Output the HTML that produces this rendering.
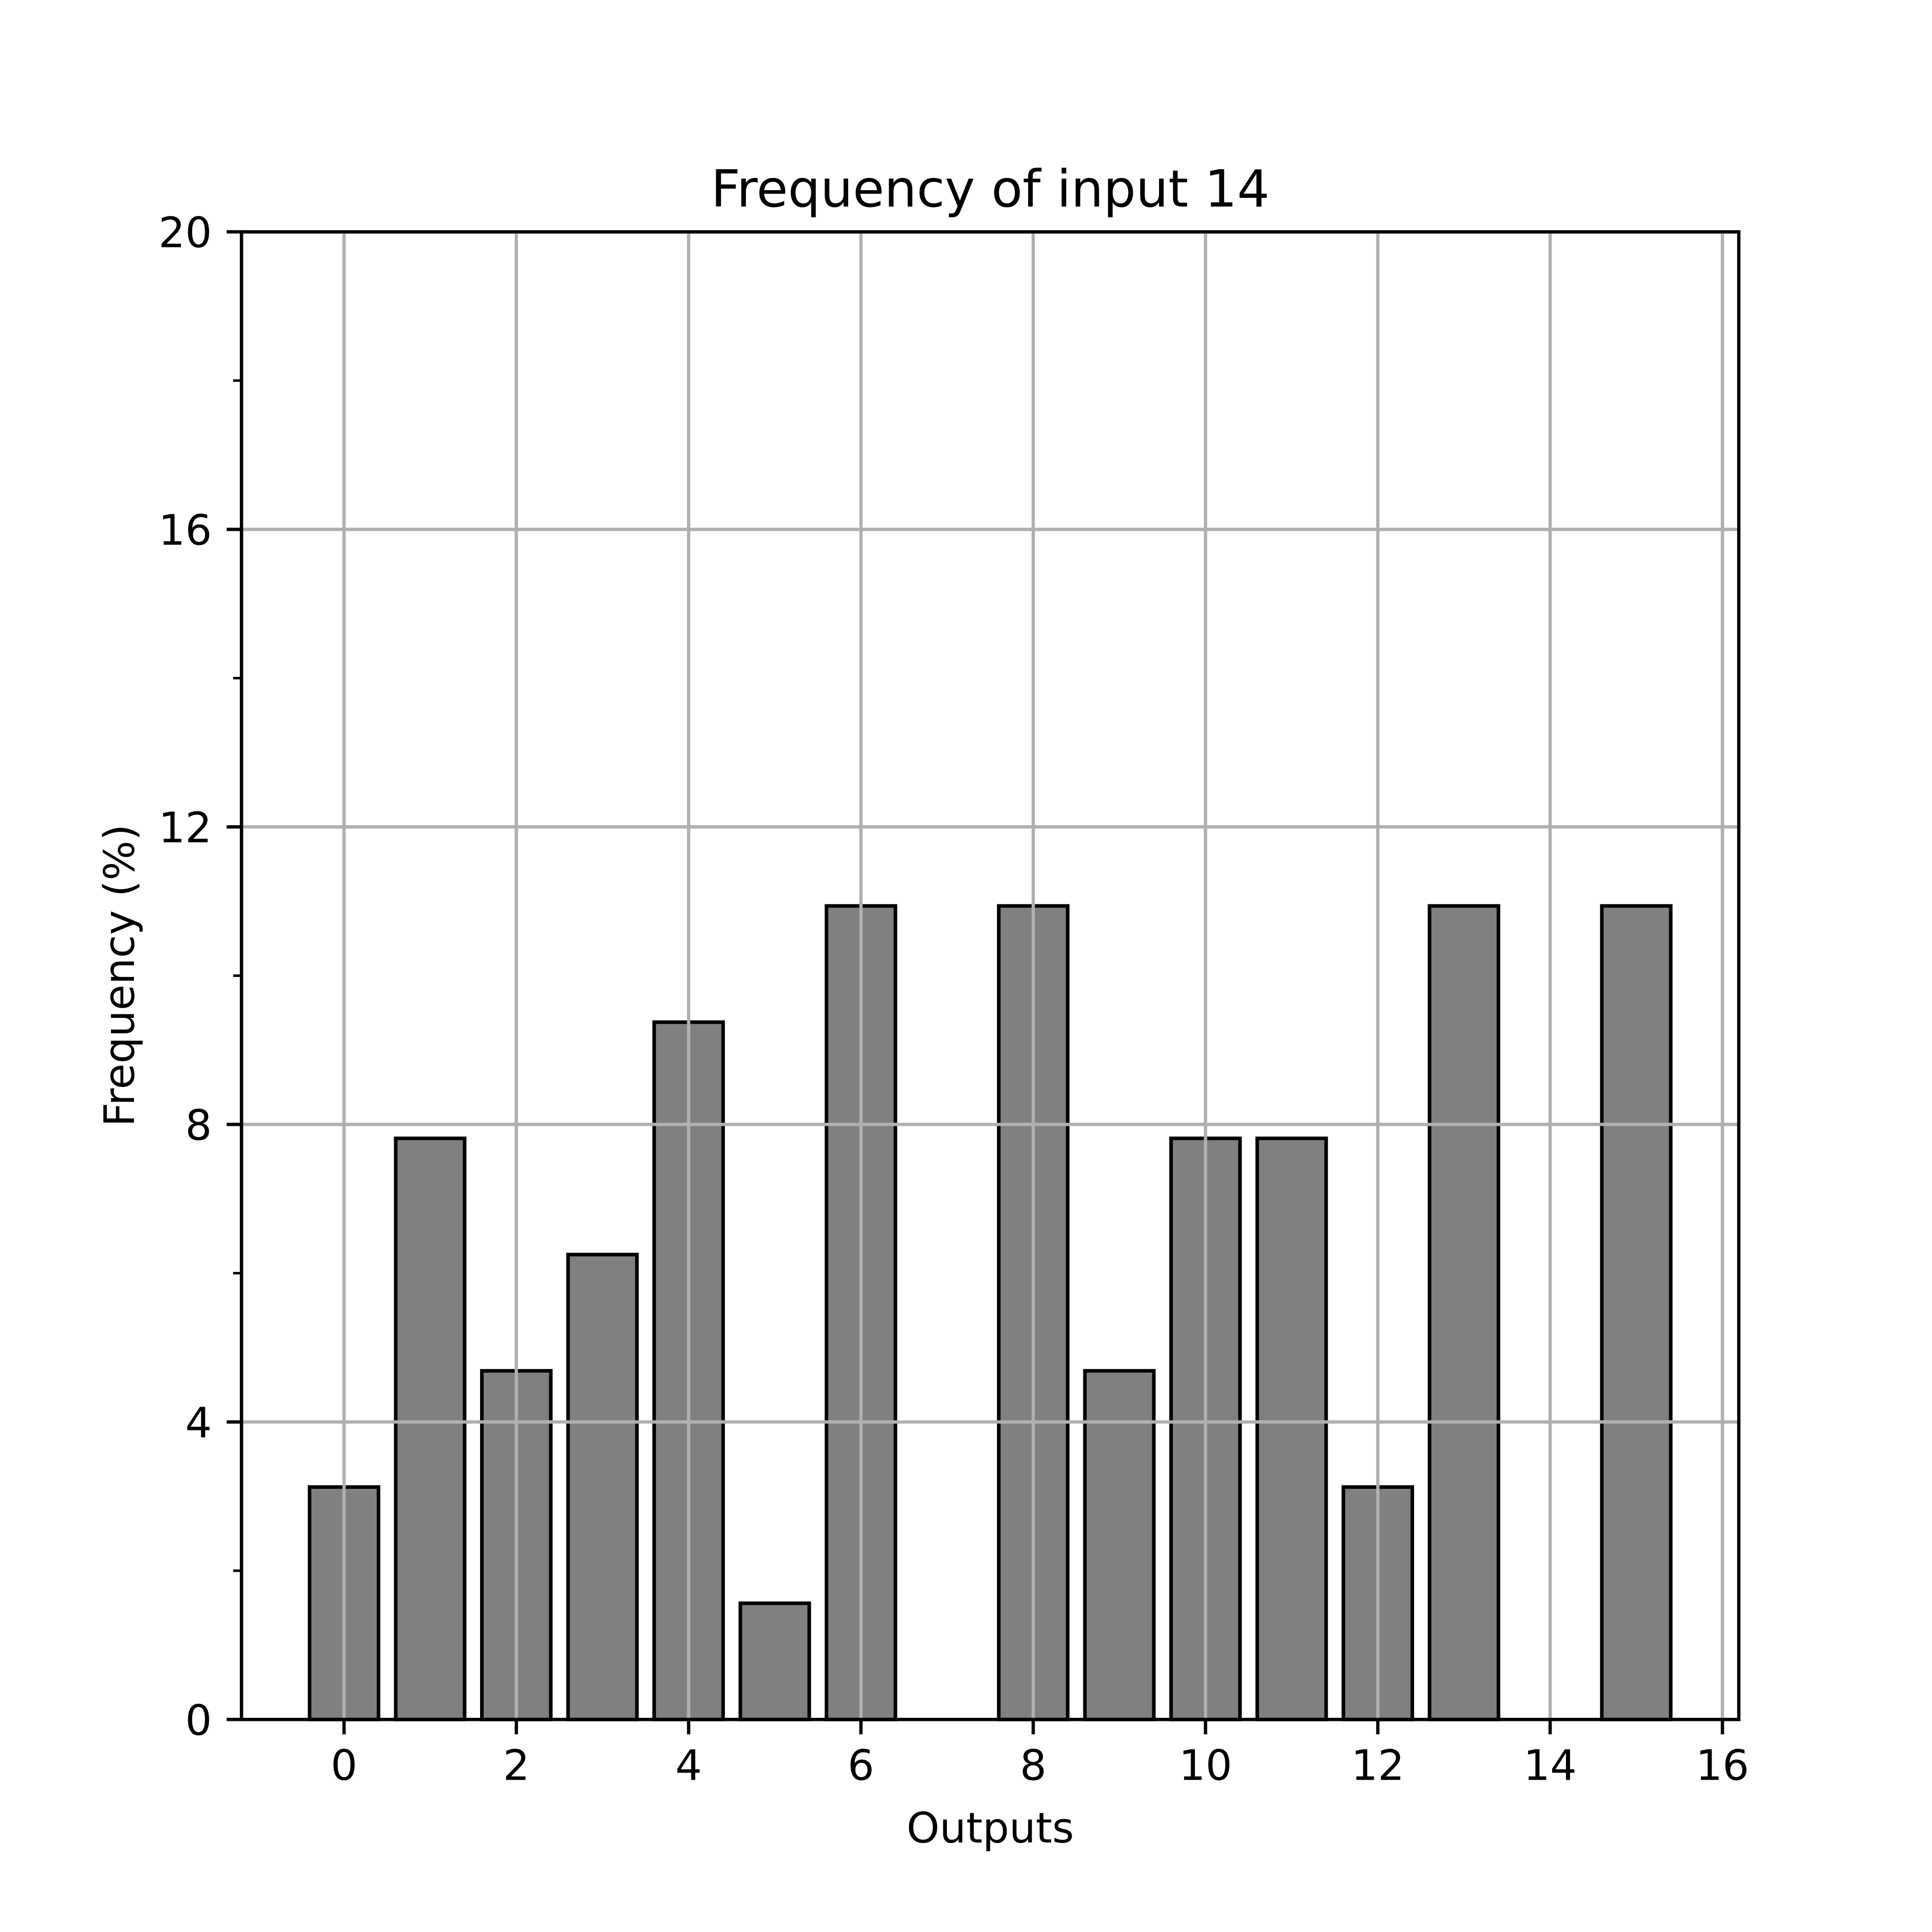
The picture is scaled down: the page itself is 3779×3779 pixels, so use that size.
<!DOCTYPE html>
<html><head><meta charset="utf-8"><style>
html,body{margin:0;padding:0;background:#fff;}
svg{display:block;font-family:"DejaVu Sans","Liberation Sans",sans-serif;}
</style></head><body>
<svg id="chart" xmlns="http://www.w3.org/2000/svg" width="3779" height="3779" viewBox="0 0 3779 3779">
<rect width="3779" height="3779" fill="#fff"/>
<g id="bars"></g>
<g id="grid"></g>
<g id="axes"></g>
<text x="1937" y="404" font-size="100" text-anchor="middle">Frequency of input 14</text>
<text x="1937" y="3604" font-size="82" text-anchor="middle">Outputs</text>
<text x="262" y="1908" font-size="82" text-anchor="middle" transform="rotate(-90 262 1908)">Frequency (%)</text>
</svg>
<script>
const categories = [0,1,2,3,4,5,6,7,8,9,10,11,12,13,14,15];
const values = [3.125,7.8125,4.6875,6.25,9.375,1.5625,10.9375,0,10.9375,4.6875,7.8125,7.8125,3.125,10.9375,0,10.9375];
const xTicks = [0,2,4,6,8,10,12,14,16];
const yTicks = [0,4,8,12,16,20];
const yMinorTicks = [2,6,10,14,18];

const NS='http://www.w3.org/2000/svg';
const L=472.4,R=3401.1,T=453.5,B=3363.3;
const xMin=-1.19,xMax=16.19,yMin=0,yMax=20;
const xs=v=>L+(v-xMin)/(xMax-xMin)*(R-L);
const ys=v=>B-(v-yMin)/(yMax-yMin)*(B-T);
function mk(tag,attrs,parent){const e=document.createElementNS(NS,tag);for(const k in attrs)e.setAttribute(k,attrs[k]);parent.appendChild(e);return e;}
const grid=document.getElementById('grid'),bars=document.getElementById('bars'),axes=document.getElementById('axes');
xTicks.forEach(t=>{const l=mk('line',{x1:xs(t),x2:xs(t),y1:T,y2:B,stroke:'#b0b0b0','stroke-width':6.5},grid);

});
yTicks.forEach(t=>{const l=mk('line',{x1:L,x2:R,y1:ys(t),y2:ys(t),stroke:'#b0b0b0','stroke-width':6.5},grid);

});
categories.forEach((c,i)=>{if(values[i]<=0)return;
const x0=xs(c-0.4),x1=xs(c+0.4),y0=ys(values[i]),y1=ys(0);
const r=mk('rect',{x:x0,y:y0,width:x1-x0,height:y1-y0,fill:'#808080',stroke:'#000','stroke-width':7},bars);

});
const f=mk('rect',{x:L,y:T,width:R-L,height:B-T,fill:'none',stroke:'#000','stroke-width':6.5},axes);


xTicks.forEach(t=>{mk('line',{x1:xs(t),x2:xs(t),y1:B,y2:B+29,stroke:'#000','stroke-width':6.5},axes);
const tx=mk('text',{x:xs(t),y:B+29+29+60,'font-size':82,'text-anchor':'middle'},axes);tx.textContent=t;

});
yTicks.forEach(t=>{mk('line',{x1:L-29,x2:L,y1:ys(t),y2:ys(t),stroke:'#000','stroke-width':6.5},axes);
const tx=mk('text',{x:L-29-29,y:ys(t)+30,'font-size':82,'text-anchor':'end'},axes);tx.textContent=t;

});
yMinorTicks.forEach(t=>{mk('line',{x1:L-16.4,x2:L,y1:ys(t),y2:ys(t),stroke:'#000','stroke-width':4.9},axes);});
</script>
</body></html>
